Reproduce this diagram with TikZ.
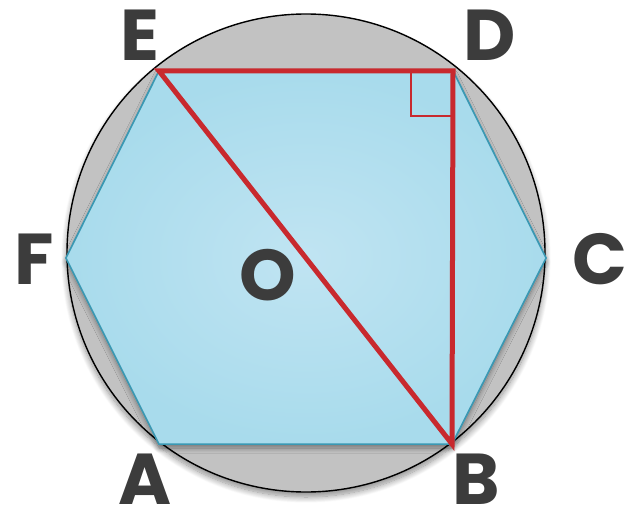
\documentclass[tikz,border=0pt]{standalone}
\usepackage{fontspec}
\setmainfont{Poppins}
\usetikzlibrary{shadows.blur}
\definecolor{discgray}{HTML}{C2C2C2}
\definecolor{hexin}{HTML}{C0E4F2}
\definecolor{hexout}{HTML}{A8DBEC}
\definecolor{hexedge}{HTML}{3A98B3}
\definecolor{redline}{HTML}{C8292E}
\definecolor{labelgray}{HTML}{3C3C3C}
\tikzset{
  disc/.style={fill=discgray, draw=black, line width=1.4pt,
    blur shadow={shadow xshift=0pt, shadow yshift=-5pt, shadow blur steps=12, shadow blur radius=6pt, shadow opacity=45}},
  hexa/.style={draw=hexedge, line width=1.5pt, line join=miter,
    blur shadow={shadow xshift=0pt, shadow yshift=-4pt, shadow blur steps=10, shadow blur radius=5pt, shadow opacity=40}},
  redtri/.style={draw=redline, line width=5pt, line join=miter, miter limit=20},
  rightmark/.style={draw=redline, line width=1.3pt},
  lbl/.style={text=labelgray, font=\fontsize{72}{72}\selectfont\bfseries, anchor=base, inner sep=0pt}
}
\begin{document}
\begin{tikzpicture}[x=1pt,y=-1pt]
\useasboundingbox (0,0) rectangle (628,513);
\coordinate (O) at (306,253);
\coordinate (E) at (159,71);
\coordinate (D) at (453,71);
\coordinate (C) at (546,258);
\coordinate (B) at (452,444);
\coordinate (A) at (159,444);
\coordinate (F) at (66,258);
% circumcircle
\path[disc] (O) circle[radius=239];
% hexagon
\path[hexa, fill=hexout] (E) -- (D) -- (C) -- (B) -- (A) -- (F) -- cycle;
\shade[inner color=hexin, outer color=hexout] (E) -- (D) -- (C) -- (B) -- (A) -- (F) -- cycle;
\draw[draw=hexedge, line width=1.5pt, line join=miter] (E) -- (D) -- (C) -- (B) -- (A) -- (F) -- cycle;
% right angle mark at D
\coordinate (R1) at (411,71);
\coordinate (R2) at (411,116);
\coordinate (R3) at (453,116);
\draw[rightmark] (R1) -- (R2) -- (R3);
% red triangle
\draw[redtri] (E) -- (D) -- (B) -- cycle;
% labels
\node[lbl] (lE) at (140,61) {E};
\node[lbl] (lD) at (490,61) {D};
\node[lbl] (lF) at (34,284) {F};
\node[lbl] (lC) at (600,284) {C};
\node[lbl] (lA) at (145,504) {A};
\node[lbl] (lB) at (476,504) {B};
\node[lbl] (lO) at (268,300) {O};
\end{tikzpicture}
\end{document}
